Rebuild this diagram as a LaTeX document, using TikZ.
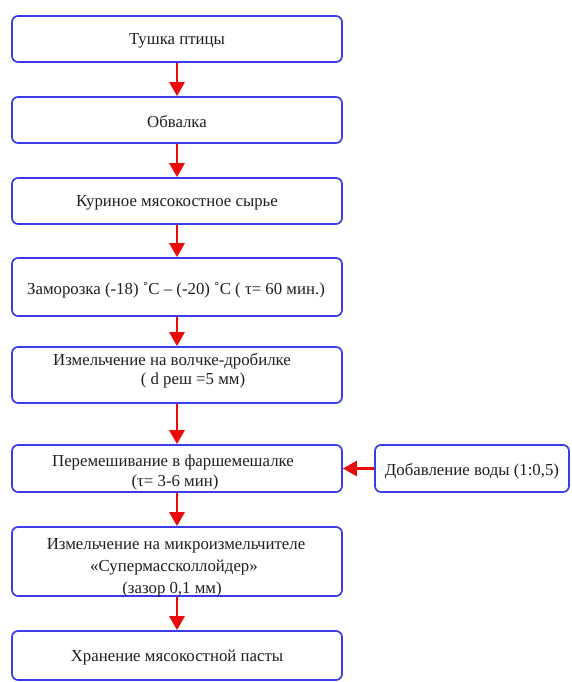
\documentclass[tikz,border=0pt]{standalone}
\usepackage{fontspec}
\setmainfont{Liberation Serif}
\usetikzlibrary{arrows.meta}
\definecolor{bblue}{RGB}{60,60,230}
\definecolor{rred}{RGB}{235,10,10}
\tikzset{
  stepbox/.style={draw=bblue, line width=1.7pt, rounded corners=6pt, fill=white, inner sep=0pt, minimum width=330pt},
  flow/.style={draw=rred, line width=2.8pt, -{Triangle[width=15pt,length=14pt]}},
  txt/.style={font=\fontsize{16.8}{19}\selectfont, inner sep=0pt, text=black!88}
}
\begin{document}
\begin{tikzpicture}[x=1pt,y=-1pt]
\useasboundingbox (0,0) rectangle (571,682);
\node[stepbox, minimum height=46pt] (b1) at (177,39) {};
\node[stepbox, minimum height=46pt] (b2) at (177,120) {};
\node[stepbox, minimum height=46pt] (b3) at (177,201) {};
\node[stepbox, minimum height=58pt] (b4) at (177,287) {};
\node[stepbox, minimum height=56pt] (b5) at (177,375) {};
\node[stepbox, minimum height=47pt] (b6) at (177,468.5) {};
\node[stepbox, minimum height=47pt, minimum width=194pt] (side) at (472,468.5) {};
\node[stepbox, minimum height=69pt] (b7) at (177,561.5) {};
\node[stepbox, minimum height=49pt] (b8) at (177,655.5) {};

\node[txt] (t1) at (177,41) {Тушка птицы};
\node[txt] (t2) at (177,122) {Обвалка};
\node[txt] (t3) at (177,203) {Куриное мясокостное сырье};
\node[txt] (t4) at (176,290) {Заморозка (-18) ˚C – (-20) ˚C ( τ= 60 мин.)};
\node[txt] (t5a) at (172,361) {Измельчение на волчке-дробилке};
\node[txt] (t5b) at (193,380) {( d реш =5 мм)};
\node[txt] (t6a) at (173,462) {Перемешивание в фаршемешалке};
\node[txt] (t6b) at (175,482) {(τ= 3-6 мин)};
\node[txt] (ts) at (472,471) {Добавление воды (1:0,5)};
\node[txt] (t7a) at (176,546) {Измельчение на микроизмельчителе};
\node[txt] (t7b) at (174,568) {«Супермассколлойдер»};
\node[txt] (t7c) at (172,589.5) {(зазор 0,1 мм)};
\node[txt] (t8) at (177,658) {Хранение мясокостной пасты};

\draw[flow] (b1) -- (b2);
\draw[flow] (b2) -- (b3);
\draw[flow] (b3) -- (b4);
\draw[flow] (b4) -- (b5);
\draw[flow] (b5) -- (b6);
\draw[flow] (b6) -- (b7);
\draw[flow] (b7) -- (b8);
\draw[flow] (side) -- (b6);
\end{tikzpicture}
\end{document}
